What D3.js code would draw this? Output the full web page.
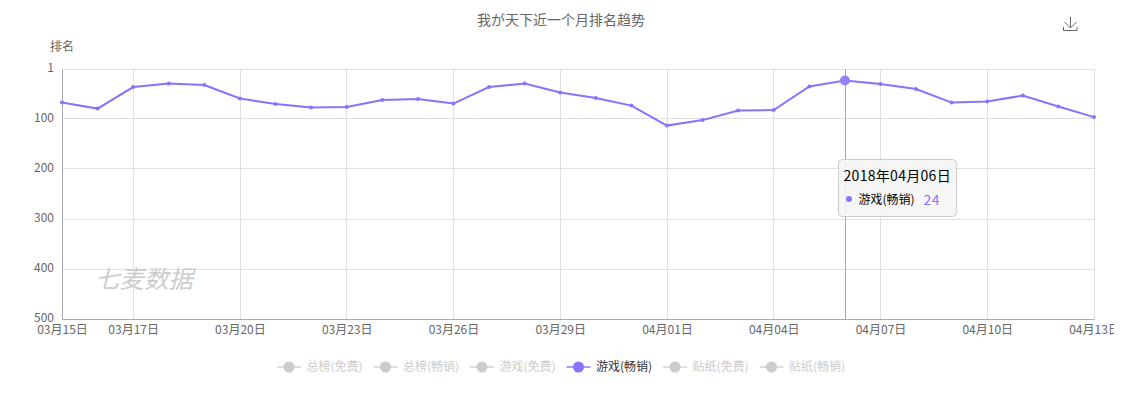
<!DOCTYPE html>
<html>
<head>
<meta charset="utf-8">
<script src="https://cdn.jsdelivr.net/npm/d3@7/dist/d3.min.js"></script>
<style>
  html, body { margin: 0; padding: 0; background: #fff; }
  svg { display: block; position: absolute; left: 0; top: 0; }
  text { font-family: "Noto Sans CJK SC", "Noto Sans", sans-serif; }
  .axis text { fill: #666; font-size: 12px; }
  .axis path, .axis line { stroke: #e0e0e0; }
</style>
</head>
<body>
<script>
var dates = ['03月15日','03月16日','03月17日','03月18日','03月19日','03月20日','03月21日','03月22日','03月23日','03月24日',
  '03月25日','03月26日','03月27日','03月28日','03月29日','03月30日','03月31日','04月01日','04月02日','04月03日',
  '04月04日','04月05日','04月06日','04月07日','04月08日','04月09日','04月10日','04月11日','04月12日','04月13日'];
var ranks = [68,80,37,30,33,60,71,78,77,63,61,70,37,30,48,59,74,114,103,84,83,36,24,31,41,68,66,54,76,97];
var xTicks = ['03月15日','03月17日','03月20日','03月23日','03月26日','03月29日','04月01日','04月04日','04月07日','04月10日','04月13日'];
var yTicks = [1,100,200,300,400,500];
var legendNames = ['总榜(免费)','总榜(畅销)','游戏(免费)','游戏(畅销)','贴纸(免费)','贴纸(畅销)'];
var activeSeries = '游戏(畅销)';
var hoverDate = '04月06日';
var hoverTitle = '2018年04月06日';

var purple = '#8873ff';
var width = 1114, height = 393;
var left = 62, right = 1094, top_ = 69, bottom = 319;

var svg = d3.select('body').append('svg')
  .attr('width', width)
  .attr('height', height);

var x = d3.scalePoint().domain(dates).range([left, right]);
var y = d3.scaleLinear().domain([1, 500]).range([top_, bottom]);

// snap a 1px line to the pixel grid
function crisp(v) {
  var r = Math.round(v * 2);
  return (r % 2 === 0 ? r + 1 : r) / 2;
}

// title + y name
svg.append('text')
  .attr('x', 561).attr('y', 25)
  .attr('text-anchor', 'middle')
  .style('font-size', '14px')
  .style('fill', '#666')
  .text('我が天下近一个月排名趋势');

svg.append('text')
  .attr('x', 50).attr('y', 51)
  .style('font-size', '12px')
  .style('fill', '#666')
  .text('排名');

// grid
var gridY = svg.append('g').attr('class', 'axis')
  .attr('transform', 'translate(' + left + ',0)')
  .call(d3.axisLeft(y).tickValues(yTicks).tickSize(-(right - left)).tickFormat('').offset(0));
gridY.select('.domain').remove();
gridY.selectAll('.tick').attr('transform', function (d) { return 'translate(0,' + crisp(y(d)) + ')'; });

var gridX = svg.append('g').attr('class', 'axis')
  .attr('transform', 'translate(0,' + bottom + ')')
  .call(d3.axisBottom(x).tickValues(xTicks).tickSize(-(bottom - top_)).tickFormat('').offset(0));
gridX.select('.domain').remove();
gridX.selectAll('.tick').attr('transform', function (d) { return 'translate(' + crisp(x(d)) + ',0)'; });

// axis lines
var axisLeft = svg.append('g').attr('class', 'axis')
  .attr('transform', 'translate(' + left + ',0)')
  .call(d3.axisLeft(y).tickValues(yTicks).tickSize(0).tickPadding(8));
axisLeft.select('.domain').style('stroke', '#a4a8b8');
axisLeft.selectAll('text').attr('dy', '0.2em');

var axisBottom = svg.append('g').attr('class', 'axis')
  .attr('transform', 'translate(0,' + bottom + ')')
  .call(d3.axisBottom(x).tickValues(xTicks).tickSize(0).tickPadding(6));
axisBottom.select('.domain').style('stroke', '#a4a8b8');

// watermark
svg.append('text')
  .attr('x', 95).attr('y', 288)
  .style('font-size', '24.5px')
  .style('font-style', 'italic')
  .style('fill', '#ccc')
  .text('七麦数据');

// pointer line
svg.append('line')
  .attr('x1', crisp(x(hoverDate))).attr('x2', crisp(x(hoverDate)))
  .attr('y1', top_).attr('y2', bottom)
  .attr('stroke', '#a8a8a8');

// series
var line = d3.line()
  .x(function (d, i) { return x(dates[i]); })
  .y(function (d) { return y(d); });

svg.append('path')
  .datum(ranks)
  .attr('d', line)
  .attr('fill', 'none')
  .attr('stroke', purple)
  .attr('stroke-width', 2);

svg.selectAll('.pt')
  .data(ranks)
  .enter().append('circle')
  .attr('class', 'pt')
  .attr('cx', function (d, i) { return x(dates[i]); })
  .attr('cy', function (d) { return y(d); })
  .attr('r', function (d, i) { return dates[i] === hoverDate ? 5 : 2; })
  .attr('fill', function (d, i) { return dates[i] === hoverDate ? '#9580ff' : purple; });

// legend
var legend = svg.selectAll('.legend')
  .data(legendNames)
  .enter().append('g')
  .attr('class', 'legend')
  .attr('transform', function (d, i) { return 'translate(' + (277 + i * 96.5) + ',367)'; });

legend.append('line')
  .attr('x1', 0).attr('x2', 24)
  .attr('stroke-width', 2)
  .attr('stroke', function (d) { return d === activeSeries ? '#a99aff' : '#ddd'; });

legend.append('circle')
  .attr('cx', 12).attr('r', 5.5)
  .attr('fill', function (d) { return d === activeSeries ? purple : '#ccc'; });

legend.append('text')
  .attr('x', 29.5).attr('y', 4)
  .style('font-size', '12px')
  .style('fill', function (d) { return d === activeSeries ? '#333' : '#ccc'; })
  .text(function (d) { return d; });

// download icon
var icon = svg.append('g')
  .attr('transform', 'translate(1063,17)')
  .attr('fill', 'none')
  .attr('stroke', '#666');
icon.append('path').attr('d', 'M7.5 0V10M1.5 5L7.5 11L13.5 5');
icon.append('path').attr('d', 'M0.5 10V13.5H14V10');

// tooltip
var hoverIndex = dates.indexOf(hoverDate);
var tip = svg.append('g').attr('transform', 'translate(838.5,159.5)');
tip.append('rect')
  .attr('width', 118).attr('height', 57).attr('rx', 4)
  .attr('fill', 'rgba(245,245,245,0.85)')
  .attr('stroke', '#ccc');
tip.append('text')
  .attr('x', 5).attr('y', 21)
  .style('font-size', '14px')
  .style('letter-spacing', '0.3px')
  .style('fill', '#000')
  .text(hoverTitle);
tip.append('circle')
  .attr('cx', 10.5).attr('cy', 39.5).attr('r', 3)
  .attr('fill', purple);
tip.append('text')
  .attr('x', 20).attr('y', 44)
  .style('font-size', '12px')
  .style('fill', '#000')
  .text(activeSeries);
tip.append('text')
  .attr('x', 85).attr('y', 45)
  .style('font-size', '14px')
  .style('letter-spacing', '0.5px')
  .style('fill', purple)
  .text(ranks[hoverIndex]);
</script>
</body>
</html>
